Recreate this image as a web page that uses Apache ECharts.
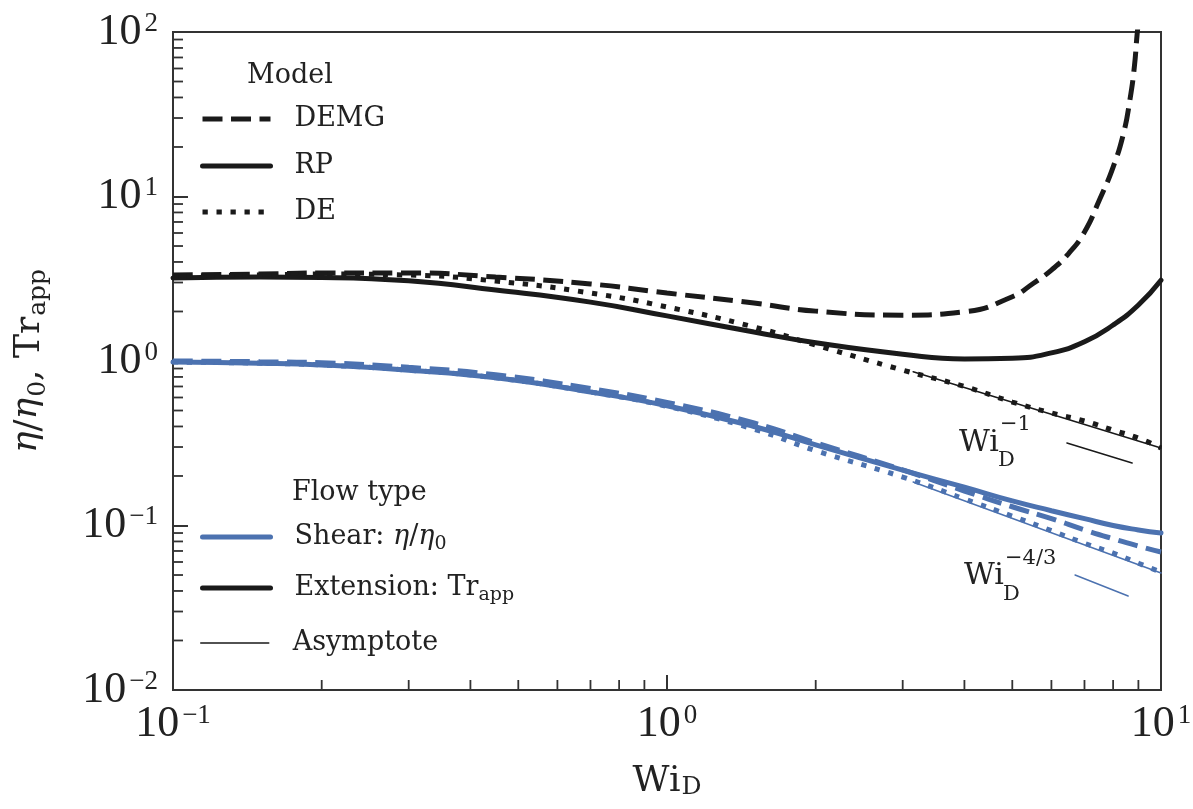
<!DOCTYPE html>
<html><head><meta charset="utf-8">
<script src="https://cdn.jsdelivr.net/npm/echarts@6/dist/echarts.min.js"></script>
<style>html,body{margin:0;padding:0;background:#fff}#c{width:1193px;height:809px}</style>
</head><body><div id="c"></div>
<script>
// ---- data ----
const wi = [0.1,0.15,0.2,0.3,0.45,0.7,1.0,1.5,2,3,4,5,6,7,8,9,10];
// extension (apparent Trouton ratio)
const demgWi = [0.1,0.15,0.2,0.3,0.45,0.7,1.0,1.5,2,3,4,5,5.5,6,6.5,7,7.5,8,8.4,8.65,8.83,8.95,9.1];
const demgTr = [3.33,3.38,3.43,3.43,3.24,2.94,2.59,2.25,2.01,1.90,1.99,2.46,2.95,3.57,4.5,6.08,9.5,15.1,24.3,38.6,61,98,160];
const rpTr   = [3.20,3.24,3.22,3.07,2.70,2.28,1.88,1.50,1.29,1.10,1.03,1.038,1.12,1.31,1.655,2.19,3.10];
const deTr   = [3.29,3.33,3.38,3.33,3.06,2.59,2.13,1.61,1.25,0.88,0.70,0.563,0.483,0.432,0.38,0.34,0.296];
// shear (eta/eta0)
const rpEta   = [0.986,0.97,0.946,0.88,0.79,0.648,0.535,0.40,0.309,0.217,0.171,0.141,0.123,0.11,0.10,0.094,0.090];
const demgEta = [1.0,0.99,0.975,0.915,0.825,0.68,0.56,0.42,0.318,0.218,0.162,0.13,0.11,0.094,0.083,0.075,0.069];
const deEta   = [0.986,0.97,0.946,0.88,0.79,0.648,0.53,0.385,0.285,0.197,0.145,0.114,0.093,0.078,0.068,0.059,0.052];
// asymptotes (straight lines in log-log)
const asymExtWi = [3.15,10], asymExtY = [0.86,0.296];
const asymShearWi = [3.15,10], asymShearY = [0.184,0.0514];
// slope indicators near labels
const slopeExtWi = [6.45,8.74], slopeExtY = [0.317,0.24];
const slopeShearWi = [6.70,8.58], slopeShearY = [0.050,0.0373];
// axes
const X_MIN = 0.1, X_MAX = 10, Y_MIN = 0.01, Y_MAX = 100;
const minorX = [0.2,0.3,0.4,0.5,0.6,0.7,0.8,0.9,2,3,4,5,6,7,8,9];
const minorY = [0.02,0.03,0.04,0.05,0.06,0.07,0.08,0.09,0.2,0.3,0.4,0.5,0.6,0.7,0.8,0.9,2,3,4,5,6,7,8,9,20,30,40,50,60,70,80,90];

// ---- styles ----
const BLUE = '#4C72B0', BLACK = '#1a1a1a', AX = '#333333', TXT = '#222222';
const LW = 5;
const DASH = [20, 8.5], DOT = [5.3, 8.7];
const SERIF = 'DejaVu Serif', TICKF = 'Liberation Serif';

function zip(xs, ys){ return xs.map((x,i)=>[x, ys[i]]); }
function curve(name, xs, ys, color, type, width, z){
  return {type:'line', name, data: zip(xs, ys), symbol:'none', showSymbol:false, smooth:0.5,
    silent:true, z: z||2, lineStyle:{color, width, type, cap: type==='solid'?'round':'butt'}};
}
function proxy(name, color, type, width){
  return {type:'line', name, data: [], symbol:'none', showSymbol:false,
    lineStyle:{color, width, type, cap: type==='solid'?'round':'butt'}, itemStyle:{color}};
}
function tickLabel(v){
  const e = Math.round(Math.log10(v));
  return '{b|10}{s|' + (e < 0 ? '\u2212' + (-e) : e) + '}';
}
const tickRich = {
  b:{fontFamily:TICKF, fontSize:44, lineHeight:44, padding:[15,0,15,0], color:TXT},
  s:{fontFamily:TICKF, fontSize:27, lineHeight:27, verticalAlign:'top', padding:[0,0,0,3], color:TXT}
};
const legRich = {
  it:{fontFamily:SERIF, fontStyle:'italic', fontSize:27, lineHeight:34, color:TXT},
  sub:{fontFamily:SERIF, fontSize:19, lineHeight:19, verticalAlign:'bottom', padding:[14,0,0,0], color:TXT}
};
const legNames = {
  DEMG:'DEMG', RP:'RP', DE:'DE',
  shear:'Shear: {it|η}/{it|η}{sub|0}', ext:'Extension: Tr{sub|app}', asym:'Asymptote'
};
function legend(name, rowY, color, type, width){
  return {show:true, orient:'vertical', left:200, top: rowY - 17, padding:0, itemWidth:68, itemHeight:34,
    data:[name], selectedMode:false, formatter: n => legNames[n],
    itemStyle:{opacity:0, borderWidth:0},
    lineStyle:{color, width, type, cap: type==='solid'?'round':'butt', opacity:1},
    textStyle:{fontFamily:SERIF, fontSize:27, lineHeight:34, color:TXT, padding:[0,0,0,19], rich: legRich}};
}

const chart = echarts.init(document.getElementById('c'), null, {renderer:'canvas'});
chart.setOption({
  animation:false,
  backgroundColor:'#ffffff',
  grid:{left:173, right:32, top:32, bottom:119, show:true, borderColor:AX, borderWidth:2,
        backgroundColor:'transparent', containLabel:false, outerBoundsMode:'none'},
  xAxis:{type:'log', logBase:10, min:X_MIN, max:X_MAX,
    name:'{b|Wi}{s|D}', nameLocation:'middle', nameGap:74, nameMoveOverlap:false,
    nameTextStyle:{rich:{
      b:{fontFamily:SERIF, fontSize:36, lineHeight:36, verticalAlign:'top', color:TXT},
      s:{fontFamily:SERIF, fontSize:25, lineHeight:25, verticalAlign:'bottom', padding:[22,0,0,1], color:TXT}}},
    axisLine:{show:true, lineStyle:{color:AX, width:2}},
    axisTick:{show:true, inside:true, length:15, lineStyle:{color:AX, width:2}},
    axisLabel:{formatter:tickLabel, margin:12, rich:tickRich},
    splitLine:{show:false}, minorTick:{show:false}},
  yAxis:{type:'log', logBase:10, min:Y_MIN, max:Y_MAX,
    name:'{it|η}/{it|η}{sub|0}, Tr{sub|app}', nameLocation:'middle', nameGap:164, nameRotate:90, nameMoveOverlap:false,
    nameTextStyle:{rich:{
      it:{fontFamily:SERIF, fontStyle:'italic', fontSize:36, lineHeight:42, verticalAlign:'top', color:TXT},
      sub:{fontFamily:SERIF, fontSize:25, lineHeight:25, verticalAlign:'bottom', padding:[28,0,0,1], color:TXT}},
      fontFamily:SERIF, fontSize:36, lineHeight:42, verticalAlign:'top', color:TXT},
    axisLine:{show:true, lineStyle:{color:AX, width:2}},
    axisTick:{show:true, inside:true, length:15, lineStyle:{color:AX, width:2}},
    axisLabel:{formatter:tickLabel, margin:15, rich:tickRich},
    splitLine:{show:false}},
  legend:[legend('DEMG',119,BLACK,DASH,LW), legend('RP',166,BLACK,'solid',LW), legend('DE',212,BLACK,DOT,LW),
          legend('shear',537,BLUE,'solid',LW), legend('ext',588,BLACK,'solid',LW), legend('asym',643,BLACK,'solid',1.5)],
  graphic:[
    {type:'text', left:247, top:76-17, style:{text:'Model', fontFamily:SERIF, fontSize:27, lineHeight:34, fill:TXT}},
    {type:'text', left:292, top:493-17, style:{text:'Flow type', fontFamily:SERIF, fontSize:27, lineHeight:34, fill:TXT}},
    {type:'text', x:959, y:443, style:{text:'Wi', fontFamily:SERIF, fontSize:30, fill:TXT, verticalAlign:'middle', align:'left'}},
    {type:'text', x:1000, y:425, style:{text:'\u22121', fontFamily:SERIF, fontSize:21, fill:TXT, verticalAlign:'middle', align:'left'}},
    {type:'text', x:998, y:461, style:{text:'D', fontFamily:SERIF, fontSize:21, fill:TXT, verticalAlign:'middle', align:'left'}},
    {type:'text', x:964, y:576, style:{text:'Wi', fontFamily:SERIF, fontSize:30, fill:TXT, verticalAlign:'middle', align:'left'}},
    {type:'text', x:1005, y:559, style:{text:'\u22124/3', fontFamily:SERIF, fontSize:21, fill:TXT, verticalAlign:'middle', align:'left'}},
    {type:'text', x:1003, y:595, style:{text:'D', fontFamily:SERIF, fontSize:21, fill:TXT, verticalAlign:'middle', align:'left'}}
  ],
  series:[
    curve('shear RP', wi, rpEta, BLUE, 'solid', LW, 3),
    curve('shear DEMG', wi, demgEta, BLUE, DASH, LW, 3),
    curve('shear DE', wi, deEta, BLUE, DOT, LW, 3),
    curve('ext RP', wi, rpTr, BLACK, 'solid', LW, 3),
    curve('ext DEMG', demgWi, demgTr, BLACK, DASH, LW, 3),
    curve('ext DE', wi, deTr, BLACK, DOT, LW, 3),
    curve('asym ext', asymExtWi, asymExtY, BLACK, 'solid', 1.5, 4),
    curve('asym shear', asymShearWi, asymShearY, BLUE, 'solid', 1.5, 4),
    curve('slope ext', slopeExtWi, slopeExtY, BLACK, 'solid', 1.5, 4),
    curve('slope shear', slopeShearWi, slopeShearY, BLUE, 'solid', 1.5, 4),
    {type:'custom', silent:true, z:5, clip:false, data: minorX.map(v=>[v, Y_MIN]),
     renderItem:(p, api)=>{ const c = api.coord([api.value(0), Y_MIN]);
       return {type:'line', shape:{x1:c[0], y1:c[1], x2:c[0], y2:c[1]-10}, style:{stroke:AX, lineWidth:1.8}}; }},
    {type:'custom', silent:true, z:5, clip:false, data: minorY.map(v=>[X_MIN, v]),
     renderItem:(p, api)=>{ const c = api.coord([X_MIN, api.value(1)]);
       return {type:'line', shape:{x1:c[0], y1:c[1], x2:c[0]+10, y2:c[1]}, style:{stroke:AX, lineWidth:1.8}}; }},
    proxy('DEMG', BLACK, DASH, LW), proxy('RP', BLACK, 'solid', LW), proxy('DE', BLACK, DOT, LW),
    proxy('shear', BLUE, 'solid', LW), proxy('ext', BLACK, 'solid', LW), proxy('asym', BLACK, 'solid', 1.5)
  ]
});
</script></body></html>
